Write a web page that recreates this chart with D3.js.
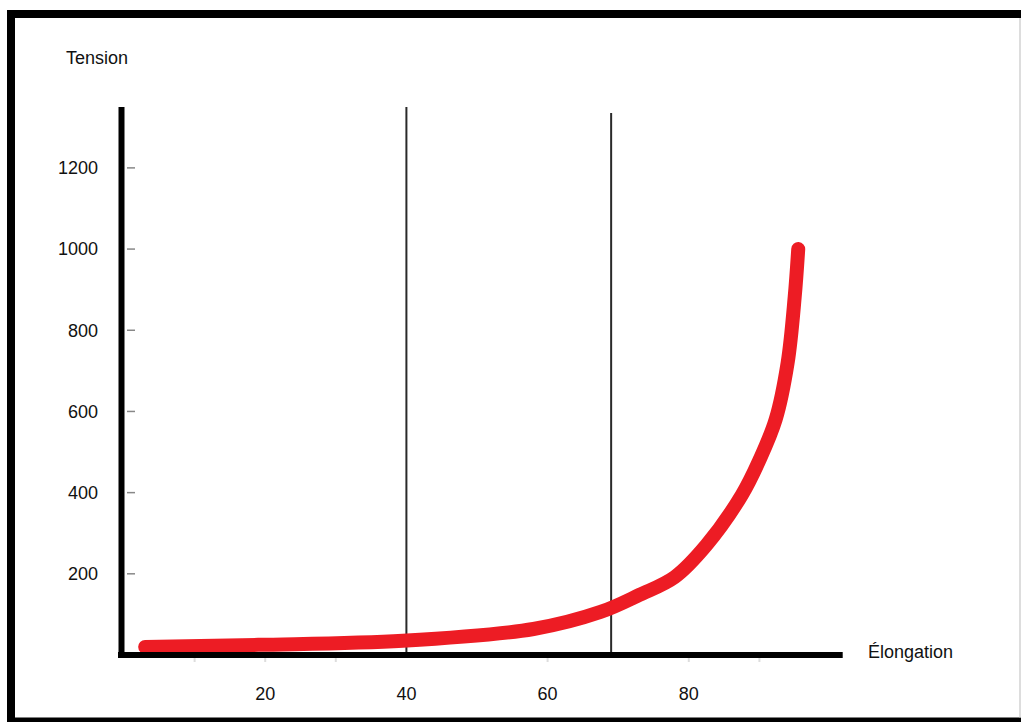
<!DOCTYPE html>
<html>
<head>
<meta charset="utf-8">
<script src="https://cdn.jsdelivr.net/npm/d3@7/dist/d3.min.js"></script>
<style>
  html, body { margin: 0; padding: 0; background: #fff; }
  svg { display: block; }
  text { font-family: "Liberation Sans", Arial, sans-serif; fill: #111; }
</style>
</head>
<body>
<svg id="chart" width="1021" height="722"></svg>
<script>
// ---- data ----
const elongation = [3, 19, 39.5, 58, 67.5, 73, 78, 82.5, 87.5, 90, 92.3, 94, 95, 95.5];
const tension    = [20, 25, 35, 64, 106, 148, 192, 271, 394, 480, 580, 720, 882, 1000];
const markerLines = [40, 69];
const yTickValues = [200, 400, 600, 800, 1000, 1200];
const xTickValues = [20, 40, 60, 80];
const xMinorTicks = [10, 20, 30, 60, 80, 90];
const yTitle = "Tension";
const xTitle = "Élongation";

// ---- layout ----
const svg = d3.select("#chart");
const x = d3.scaleLinear().domain([0, 100]).range([124, 830]);
const y = d3.scaleLinear().domain([0, 1350]).range([655, 107]);

// frame
const frame = svg.append("g");
frame.append("line").attr("x1", 7).attr("x2", 1021).attr("y1", 14).attr("y2", 14)
  .attr("stroke", "#000").attr("stroke-width", 8);
frame.append("line").attr("x1", 11).attr("x2", 11).attr("y1", 10).attr("y2", 722)
  .attr("stroke", "#000").attr("stroke-width", 8);
frame.append("line").attr("x1", 7).attr("x2", 1021).attr("y1", 720).attr("y2", 720)
  .attr("stroke", "#000").attr("stroke-width", 5);
frame.append("line").attr("x1", 1020).attr("x2", 1020).attr("y1", 18).attr("y2", 718)
  .attr("stroke", "#bbb").attr("stroke-width", 1);

// marker vertical lines
svg.append("g").selectAll("line").data(markerLines).join("line")
  .attr("x1", d => x(d)).attr("x2", d => x(d))
  .attr("y1", (d, i) => i === 0 ? y(1350) : y(1335)).attr("y2", y(0))
  .attr("stroke", "#2a2a2a").attr("stroke-width", 2);

// y tick marks (faint)
svg.append("g").selectAll("line").data(yTickValues).join("line")
  .attr("x1", 127).attr("x2", 135)
  .attr("y1", d => y(d)).attr("y2", d => y(d))
  .attr("stroke", "#888").attr("stroke-width", 1.5);

// x minor ticks (very faint)
svg.append("g").selectAll("line").data(xMinorTicks).join("line")
  .attr("x1", d => x(d)).attr("x2", d => x(d))
  .attr("y1", 658).attr("y2", 662)
  .attr("stroke", "#ddd").attr("stroke-width", 2);

// y tick labels
svg.append("g").selectAll("text").data(yTickValues).join("text")
  .attr("x", 98).attr("y", d => y(d)).attr("dy", "0.35em")
  .attr("text-anchor", "end").attr("font-size", 18)
  .text(d => d);

// x tick labels
svg.append("g").selectAll("text").data(xTickValues).join("text")
  .attr("x", d => x(d)).attr("y", 700)
  .attr("text-anchor", "middle").attr("font-size", 18)
  .text(d => d);

// red curve
const pts = elongation.map((e, i) => [e, tension[i]]);
svg.append("path").datum(pts)
  .attr("d", d3.line().x(d => x(d[0])).y(d => y(d[1])).curve(d3.curveCatmullRom.alpha(0.5)))
  .attr("fill", "none").attr("stroke", "#ed1c24").attr("stroke-width", 14)
  .attr("stroke-linecap", "round").attr("stroke-linejoin", "round");

// axes
svg.append("line").attr("x1", 121.5).attr("x2", 121.5).attr("y1", y(1350)).attr("y2", 658)
  .attr("stroke", "#000").attr("stroke-width", 6);
svg.append("line").attr("x1", 118).attr("x2", x(101.8)).attr("y1", 655).attr("y2", 655)
  .attr("stroke", "#000").attr("stroke-width", 6);

// titles
svg.append("text").attr("x", 66).attr("y", 64).attr("font-size", 18).text(yTitle);
svg.append("text").attr("x", 868).attr("y", 658).attr("font-size", 18).text(xTitle);
</script>
</body>
</html>
